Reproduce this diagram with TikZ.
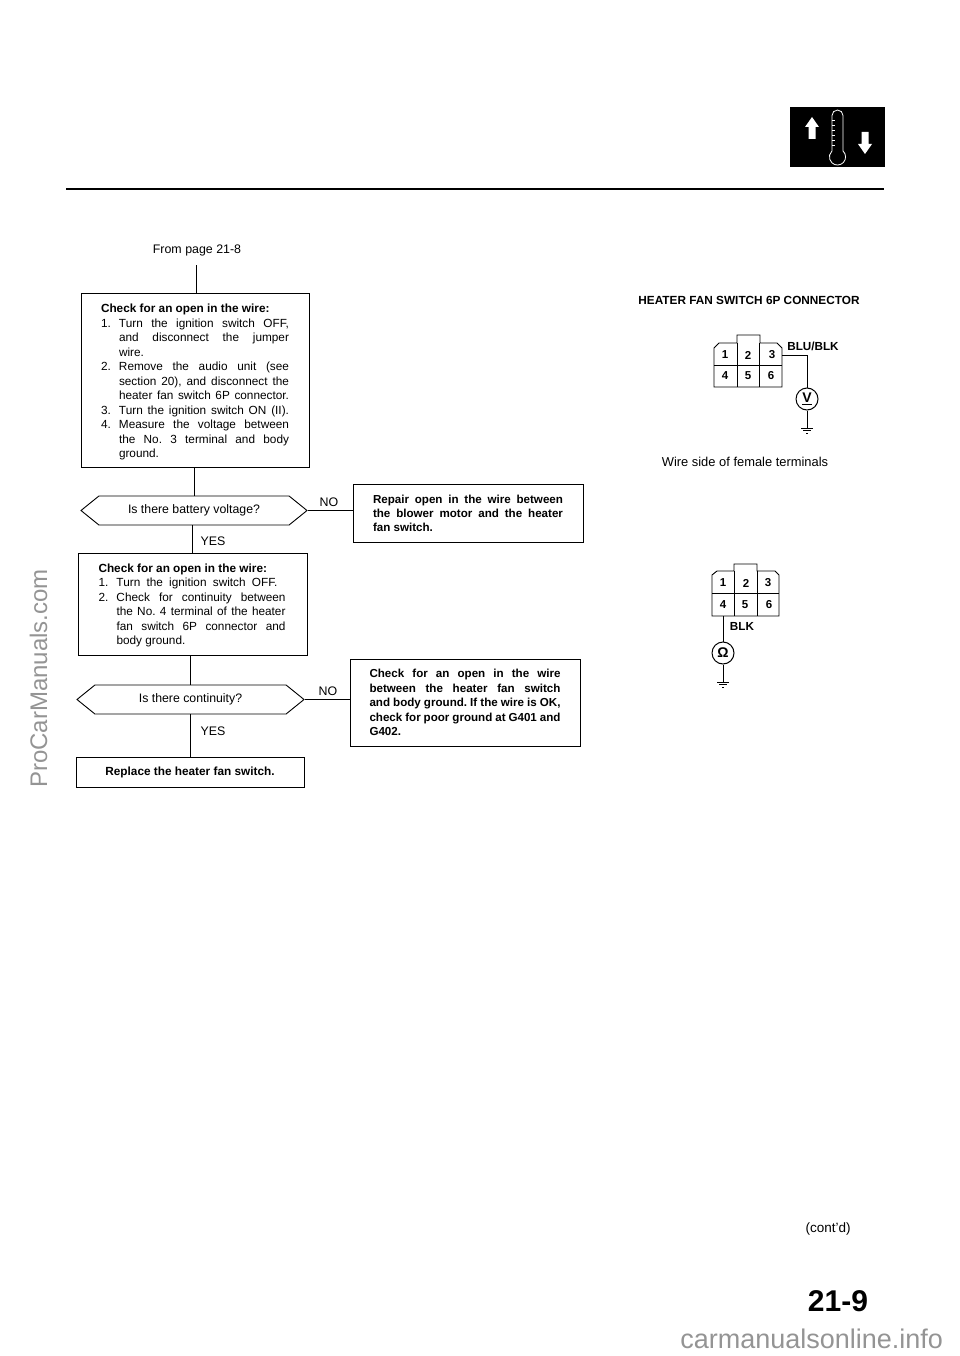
\documentclass[tikz,border=0pt]{standalone}
\usepackage{fontspec}
\setmainfont{Liberation Sans}
\frenchspacing
\usetikzlibrary{shapes.symbols}
\newcommand{\fitline}[2]{\makebox[#1][s]{#2}\\}
\newcommand{\stepline}[3]{\makebox[18pt][l]{#1}\makebox[#2][s]{#3}\\}
\tikzset{
  textbox/.style={draw,line width=0.9pt,inner sep=0pt,align=left,font=\fontsize{11.8}{14.5}\selectfont},
  askbox/.style={draw,line width=0.9pt,signal,signal to=west and east,signal pointer angle=78,inner sep=0pt,minimum height=29pt,font=\fontsize{12.3}{13}\selectfont},
  plaintext/.style={font=\fontsize{12.4}{13}\selectfont},
  pinnum/.style={font=\bfseries\fontsize{11.5}{12}\selectfont},
  wirename/.style={font=\bfseries\fontsize{11.7}{13}\selectfont},
  meter/.style={draw,circle,line width=1pt,inner sep=0pt,minimum size=22pt,font=\bfseries\fontsize{14}{15}\selectfont},
  sitemark/.style={text=black!42,inner sep=0pt}
}
\begin{document}
\begin{tikzpicture}[x=1pt,y=-1pt,line width=0.9pt]
\useasboundingbox (0,0) rectangle (960,1356);

% page header
\fill (790,107) rectangle (885,167);
\draw[white,line width=0.8pt] (832,151) -- (832,115.5) arc (180:360:5.5) -- (843,151) arc (-47:227:8.1);
\draw[white,line width=0.8pt] (832,120) -- (835,120) (832,125) -- (835,125) (832,130) -- (835,130) (832,135) -- (835,135) (832,140) -- (835,140) (832,145) -- (835,145);
\fill[white] (812,117) -- (819,127) -- (815.5,127) -- (815.5,139) -- (808.5,139) -- (808.5,127) -- (805,127) -- cycle;
\fill[white] (865,154) -- (872,144) -- (868.5,144) -- (868.5,132) -- (861.5,132) -- (861.5,144) -- (858,144) -- cycle;
\draw[line width=1.4pt] (66,189) -- (884,189);

% left column
\node[plaintext] (frompage) at (197,250) {From page 21-8};
\coordinate (fromend) at (196,265);
\node[textbox,minimum width=228pt,minimum height=174pt] (openone) at (195,380) {%
\parbox{188pt}{\fontsize{11.8}{14.5}\selectfont\vspace*{4pt}
\textbf{Check for an open in the wire:}\\
\stepline{1.}{170pt}{Turn the ignition switch OFF,}
\hspace*{18pt}\makebox[170pt][s]{and disconnect the jumper}\\
\hspace*{18pt}wire.\\
\stepline{2.}{170pt}{Remove the audio unit (see}
\hspace*{18pt}\makebox[170pt][s]{section 20), and disconnect the}\\
\hspace*{18pt}\makebox[170pt][s]{heater fan switch 6P connector.}\\
\stepline{3.}{170pt}{Turn the ignition switch ON (II).}
\stepline{4.}{170pt}{Measure the voltage between}
\hspace*{18pt}\makebox[170pt][s]{the No. 3 terminal and body}\\
\hspace*{18pt}ground.}};
\node[askbox,minimum width=226pt] (askvolt) at (194,510.5) {Is there battery voltage?};
\node[plaintext] (yesone) at (213,541) {YES};
\node[textbox,minimum width=229pt,minimum height=102pt] (opentwo) at (192.5,604) {%
\parbox{188pt}{\fontsize{11.8}{14.5}\selectfont\vspace*{3pt}
\textbf{Check for an open in the wire:}\\
\stepline{1.}{161pt}{Turn the ignition switch OFF.}
\stepline{2.}{169pt}{Check for continuity between}
\hspace*{18pt}\makebox[169pt][s]{the No. 4 terminal of the heater}\\
\hspace*{18pt}\makebox[169pt][s]{fan switch 6P connector and}\\
\hspace*{18pt}body ground.}};
\node[askbox,minimum width=227pt] (askcont) at (190.5,699.5) {Is there continuity?};
\node[plaintext] (yestwo) at (213,731) {YES};
\node[textbox,minimum width=228pt,minimum height=30pt,align=center] (replace) at (190,772) {\textbf{Replace the heater fan switch.}};

% repair boxes
\node[plaintext] (noone) at (329,502) {NO};
\node[textbox,minimum width=230pt,minimum height=58pt] (repair) at (468,513) {%
\parbox{190pt}{\bfseries\fontsize{11.6}{14}\selectfont
\fitline{190pt}{Repair open in the wire between}
\fitline{190pt}{the blower motor and the heater}
fan switch.}};
\node[plaintext] (notwo) at (328,691) {NO};
\node[textbox,minimum width=230pt,minimum height=87pt] (opengnd) at (465,702.5) {%
\parbox{191pt}{\bfseries\fontsize{11.6}{14.5}\selectfont
\fitline{191pt}{Check for an open in the wire}
\fitline{191pt}{between the heater fan switch}
\fitline{191pt}{and body ground. If the wire is OK,}
\fitline{191pt}{check for poor ground at G401 and}
G402.}};

\draw (fromend) -- (fromend |- openone.north);
\draw (askvolt.north |- openone.south) -- (askvolt.north);
\draw (opentwo.north |- askvolt.south) -- (opentwo.north);
\draw (askcont.north |- opentwo.south) -- (askcont.north);
\draw (askcont.south) -- (askcont.south |- replace.north);
\draw (askvolt.east) -- (askvolt.east -| repair.west);
\draw (askcont.east) -- (askcont.east -| opengnd.west);

% voltage check connector
\node[font=\bfseries\fontsize{11.8}{13}\selectfont] (heading) at (749,300) {HEATER FAN SWITCH 6P CONNECTOR};
\draw (714,387) -- (714,348) -- (719,343) -- (737,343) -- (737,335) -- (760,335) -- (760,343) -- (777,343) -- (782,348) -- (782,387) -- cycle;
\draw (714,365) -- (782,365) (737,343) -- (737,387) (759,343) -- (759,387);
\node[pinnum] (pina1) at (725,355) {1};
\node[pinnum] (pina2) at (748,355) {2};
\node[pinnum] (pina3) at (772,355) {3};
\node[pinnum] (pina4) at (725,376) {4};
\node[pinnum] (pina5) at (748,376) {5};
\node[pinnum] (pina6) at (771,376) {6};
\node[wirename] (blublk) at (813,346) {BLU/BLK};
\coordinate (wirea) at (782,355);
\coordinate (benda) at (807,355);
\node[meter] (voltm) at (807,399) {\underline{V}};
\coordinate (gnda) at (807,428);
\draw (wirea) -- (benda) -- (voltm.north);
\draw (voltm.south) -- (gnda);
\draw (801,428) -- (813,428) (803,430.5) -- (811,430.5) (806,433) -- (808,433);
\node[font=\fontsize{12.9}{13}\selectfont] (wireside) at (745,462) {Wire side of female terminals};

% continuity check connector
\draw (712,616) -- (712,575) -- (717,571) -- (734,571) -- (734,564) -- (757,564) -- (757,571) -- (775,571) -- (779,575) -- (779,616) -- cycle;
\draw (712,593) -- (779,593) (734,571) -- (734,616) (757,571) -- (757,616);
\node[pinnum] (pinb1) at (723,583) {1};
\node[pinnum] (pinb2) at (746,583) {2};
\node[pinnum] (pinb3) at (768,583) {3};
\node[pinnum] (pinb4) at (723,605) {4};
\node[pinnum] (pinb5) at (745,605) {5};
\node[pinnum] (pinb6) at (769,605) {6};
\node[wirename] (blk) at (742,626) {BLK};
\coordinate (wireb) at (723,616);
\node[meter] (ohmm) at (723,653) {Ω};
\coordinate (gndb) at (723,682);
\draw (wireb) -- (ohmm.north);
\draw (ohmm.south) -- (gndb);
\draw (717,682) -- (729,682) (719,684.5) -- (727,684.5) (722,687) -- (724,687);

% page footer
\node[font=\fontsize{13.5}{14}\selectfont] (contd) at (828,1229) {(cont'd)};
\node[font=\bfseries\fontsize{30}{30}\selectfont] (pageno) at (838,1301) {21-9};
\node[sitemark,font=\fontsize{24}{26}\selectfont,rotate=90,anchor=base] (markleft) at (47,678.5) {ProCarManuals.com};
\node[sitemark,font=\fontsize{27}{30}\selectfont,anchor=base east] (markfoot) at (943.5,1348) {carmanualsonline.info};
\end{tikzpicture}
\end{document}
